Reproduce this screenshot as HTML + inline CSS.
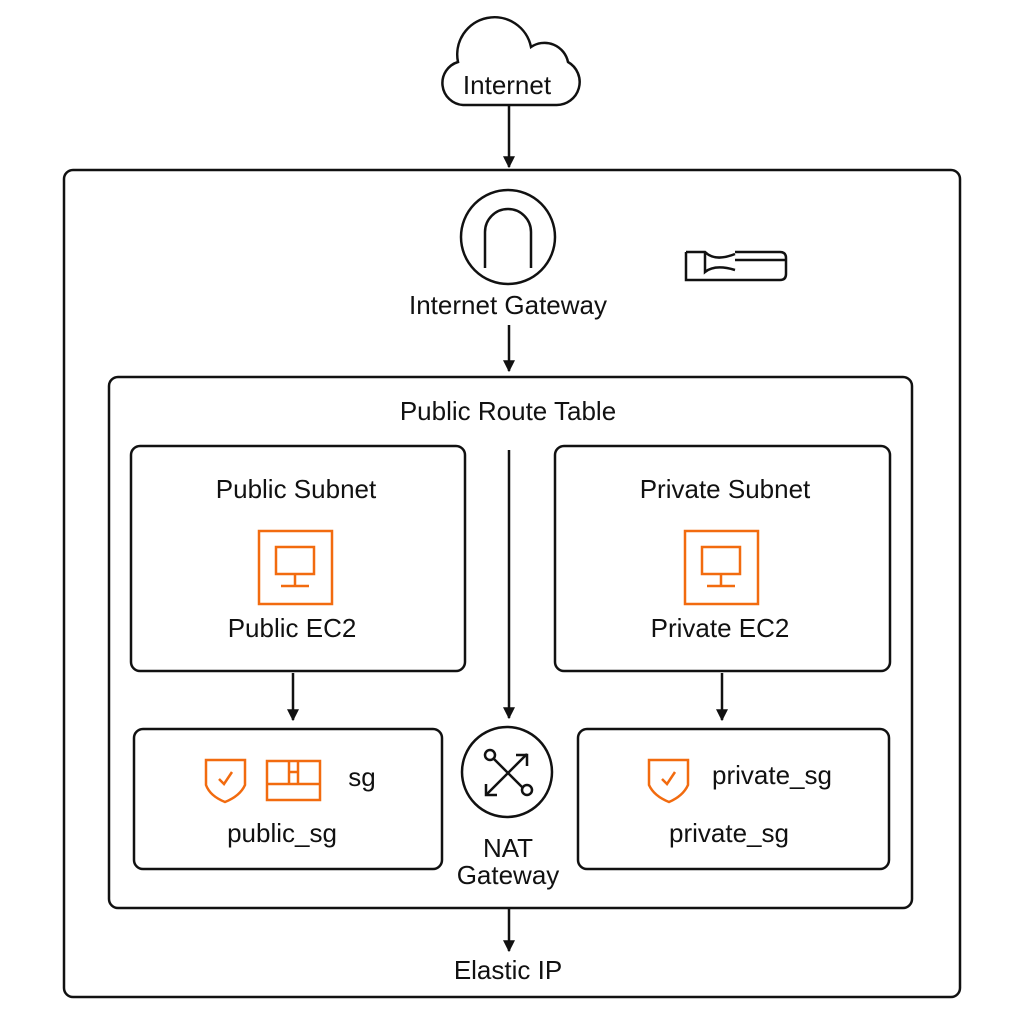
<!DOCTYPE html>
<html><head><meta charset="utf-8"><style>
html,body{margin:0;padding:0;background:#fff;}
svg{display:block;}
text{font-family:"Liberation Sans","DejaVu Sans",sans-serif;font-size:26px;fill:#111;text-anchor:middle;}
</style></head><body>
<svg width="1024" height="1024" viewBox="0 0 1024 1024" xmlns="http://www.w3.org/2000/svg">
<defs><marker id="a" viewBox="0 0 10 10" refX="9" refY="5" markerWidth="12" markerHeight="12" markerUnits="userSpaceOnUse" orient="auto"><path d="M0,0 L10,5 L0,10 z" fill="#111"/></marker></defs>
<g fill="none" stroke="#111" stroke-width="2.5">
<path d="M463,105 H556 A23,23 0 0 0 568,62 A24,24 0 0 0 531,47 A36,36 0 0 0 458,62 A22,22 0 0 0 463,105 Z"/>
<line x1="509" y1="106" x2="509" y2="167" marker-end="url(#a)"/>
<rect x="64" y="170" width="896" height="827" rx="9"/>
<circle cx="508" cy="237" r="47"/>
<path d="M485,268 V232 A23,23 0 0 1 531,232 V268"/>
<path d="M686,252 H705 Q715,262 735,254 M686,252 V280 H780 Q786,280 786,274 V258 Q786,252 780,252 H735 M705,252 V272 Q715,264 735,270 M735,260 H786"/>
<line x1="509" y1="325" x2="509" y2="371" marker-end="url(#a)"/>
<rect x="109" y="377" width="803" height="531" rx="9"/>
<rect x="131" y="446" width="334" height="225" rx="9"/>
<rect x="555" y="446" width="335" height="225" rx="9"/>
<line x1="509" y1="450" x2="509" y2="718" marker-end="url(#a)"/>
<line x1="293" y1="673" x2="293" y2="720" marker-end="url(#a)"/>
<line x1="722" y1="673" x2="722" y2="720" marker-end="url(#a)"/>
<rect x="134" y="729" width="308" height="140" rx="9"/>
<rect x="578" y="729" width="311" height="140" rx="9"/>
<circle cx="507" cy="772" r="45"/>
<path d="M490,755 L528,793 M527,754 L486,795"/>
<circle cx="490" cy="755" r="5" fill="#fff"/><circle cx="527" cy="790" r="5" fill="#fff"/>
<path d="M516,755 H527 V766 M486,784 V795 H497"/>
<line x1="509" y1="908" x2="509" y2="951" marker-end="url(#a)"/>
</g>
<g fill="none" stroke="#f26b0f" stroke-width="2.5">
<rect x="259" y="531" width="73" height="73"/>
<rect x="276" y="547" width="38" height="27"/><path d="M295,574 V585 M281,586 H309"/>
<rect x="685" y="531" width="73" height="73"/>
<rect x="702" y="547" width="38" height="27"/><path d="M721,574 V585 M707,586 H735"/>
<path d="M206,760 H245 V785 Q240,796 225,802 Q210,796 206,785 Z"/><path d="M219,779 L224,784 L232,772"/>
<path d="M649,760 H688 V785 Q683,796 669,802 Q654,796 649,785 Z"/><path d="M662,779 L667,784 L675,772"/>
<rect x="267" y="761" width="53" height="39"/><path d="M267,784 H320 M289,761 V784 M298,761 V784 M289,772 H298"/>
</g>
<text x="507" y="94">Internet</text>
<text x="508" y="314">Internet Gateway</text>
<text x="508" y="420">Public Route Table</text>
<text x="296" y="498">Public Subnet</text>
<text x="725" y="498">Private Subnet</text>
<text x="292" y="637">Public EC2</text>
<text x="720" y="637">Private EC2</text>
<text x="362" y="786">sg</text>
<text x="282" y="842">public_sg</text>
<text x="772" y="784">private_sg</text>
<text x="729" y="842">private_sg</text>
<text x="508" y="857">NAT</text>
<text x="508" y="884">Gateway</text>
<text x="508" y="979">Elastic IP</text>
</svg>
</body></html>
